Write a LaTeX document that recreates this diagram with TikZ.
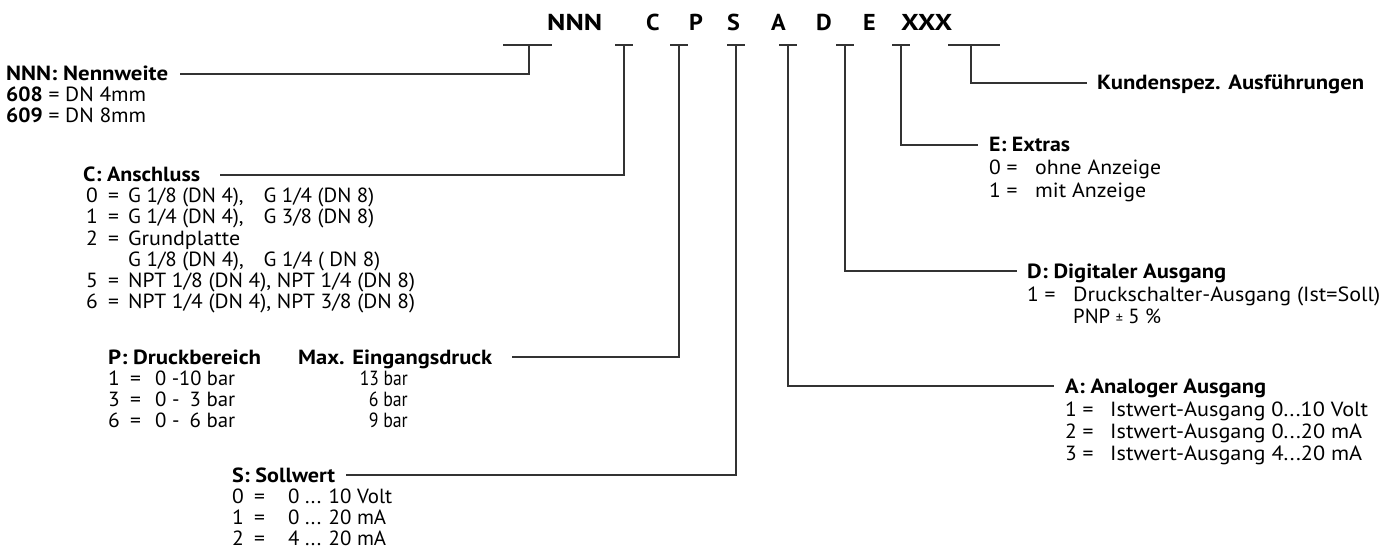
\documentclass[tikz,border=0pt]{standalone}
\usepackage{fontspec}
\usepackage{graphicx}
\setmainfont{PT Sans}[FakeStretch=1.05]
\newlength\fitlen
\newcommand\fitw[2]{\settowidth\fitlen{#2}\scalebox{\fpeval{#1/(\the\fitlen)}}[1]{#2}}
\newcommand\bodyf{\fontsize{20.5}{22}\selectfont}
\tikzset{
  ttl/.style={font=\bodyf\bfseries, anchor=base west, inner sep=0pt, text height=14pt, text depth=0pt},
  txt/.style={font=\bodyf, anchor=base west, inner sep=0pt},
  hdr/.style={font=\fontsize{23}{24}\selectfont\bfseries, anchor=base west, inner sep=0pt},
  conn/.style={line width=1.1pt, draw=black!80},
}
\begin{document}
\begin{tikzpicture}[x=1pt,y=-1pt]
\useasboundingbox (0,0) rectangle (1397,556);
% header
\node[hdr] (hN) at (547,31) {\fitw{55}{NNN}};
\node[hdr] (hC) at (646,31) {C};
\node[hdr] (hP) at (689,31) {P};
\node[hdr] (hS) at (727,31) {S};
\node[hdr] (hA) at (771,31) {A};
\node[hdr] (hD) at (816,31) {D};
\node[hdr] (hE) at (863,31) {E};
\node[hdr] (hX) at (901,31) {\fitw{51}{XXX}};
% tick coordinates
\coordinate (tN) at (529,45);
\coordinate (tC) at (624,45);
\coordinate (tP) at (679,45);
\coordinate (tS) at (736,45);
\coordinate (tA) at (788,45);
\coordinate (tD) at (845,45);
\coordinate (tE) at (901,45);
\coordinate (tX) at (971,45);
\coordinate (bN1) at (503,45); \coordinate (bN2) at (552,45);
\coordinate (bX1) at (948,45); \coordinate (bX2) at (1000,45);
% bars
\draw[conn] (bN1) -- (bN2);
\draw[conn] (bX1) -- (bX2);
\foreach \c in {tC,tP,tS,tA,tD,tE} \draw[conn] ([xshift=-9pt]\c) -- ([xshift=9pt]\c);
% NNN
\node[ttl] (nT) at (6,81) {\fitw{162}{NNN: Nennweite}};
\node[txt] (n1) at (6,102) {\fitw{140}{\textbf{608} = DN 4mm}};
\node[txt] (n2) at (6,123) {\fitw{140}{\textbf{609} = DN 8mm}};
% C
\node[ttl] (cT) at (83,182) {\fitw{117}{C: Anschluss}};
\node[txt] (c1l) at (86,203) {0\enspace=};
\node[txt] (c1) at (128,203) {\fitw{246}{G 1/8 (DN 4),\quad G 1/4 (DN 8)}};
\node[txt] (c2l) at (86,224) {1\enspace=};
\node[txt] (c2) at (128,224) {\fitw{246}{G 1/4 (DN 4),\quad G 3/8 (DN 8)}};
\node[txt] (c3l) at (86,245) {2\enspace=};
\node[txt] (c3) at (128,245) {\fitw{112}{Grundplatte}};
\node[txt] (c4) at (128,266) {\fitw{252}{G 1/8 (DN 4),\quad G 1/4 ( DN 8)}};
\node[txt] (c5l) at (86,287) {5\enspace=};
\node[txt] (c5) at (128,287) {\fitw{287}{NPT 1/8 (DN 4), NPT 1/4 (DN 8)}};
\node[txt] (c6l) at (86,308) {6\enspace=};
\node[txt] (c6) at (128,308) {\fitw{287}{NPT 1/4 (DN 4), NPT 3/8 (DN 8)}};
% P
\node[ttl] (pT) at (108,364) {\fitw{153}{P: Druckbereich}};
\node[ttl] (mT) at (298,364) {\fitw{194}{Max. Eingangsdruck}};
\node[txt] (p1l) at (108,385) {1\enspace=};
\node[txt] (p1) at (155,385) {\fitw{80}{0 -10 bar}};
\node[txt] (p2l) at (108,406) {3\enspace=};
\node[txt] (p2) at (155,406) {\fitw{80}{0 -\enspace3 bar}};
\node[txt] (p3l) at (108,427) {6\enspace=};
\node[txt] (p3) at (155,427) {\fitw{80}{0 -\enspace6 bar}};
\node[txt, anchor=base east] (m1) at (408,385) {\fitw{48}{13 bar}};
\node[txt, anchor=base east] (m2) at (408,406) {\fitw{39}{6 bar}};
\node[txt, anchor=base east] (m3) at (408,427) {\fitw{39}{9 bar}};
% S
\node[ttl] (sT) at (232,482) {\fitw{103}{S: Sollwert}};
\node[txt] (s1l) at (232,503) {0\enspace=};
\node[txt] (s1) at (288,503) {\fitw{104}{0 ... 10 Volt}};
\node[txt] (s2l) at (232,524) {1\enspace=};
\node[txt] (s2) at (288,524) {\fitw{98}{0 ... 20 mA}};
\node[txt] (s3l) at (232,545) {2\enspace=};
\node[txt] (s3) at (288,545) {\fitw{98}{4 ... 20 mA}};
% XXX
\node[ttl] (xT) at (1097,90) {\fitw{267}{Kundenspez. Ausführungen}};
% E
\node[ttl] (eT) at (989,152) {\fitw{81}{E: Extras}};
\node[txt] (e1l) at (989,175) {0 =};
\node[txt] (e1) at (1035,175) {\fitw{126}{ohne Anzeige}};
\node[txt] (e2l) at (989,197) {1 =};
\node[txt] (e2) at (1035,197) {\fitw{111}{mit Anzeige}};
% D
\node[ttl] (dT) at (1027,278) {\fitw{199}{D: Digitaler Ausgang}};
\node[txt] (d1l) at (1027,301) {1 =};
\node[txt] (d1) at (1073,301) {\fitw{307}{Druckschalter-Ausgang (Ist=Soll)}};
\node[txt] (d2) at (1073,323) {\fitw{88}{PNP {\fontsize{14}{14}\selectfont ±} 5 \%}};
% A
\node[ttl] (aT) at (1065,393) {\fitw{201}{A: Analoger Ausgang}};
\node[txt] (a1l) at (1065,416) {1 =};
\node[txt] (a1) at (1110,416) {\fitw{258}{Istwert-Ausgang 0...10 Volt}};
\node[txt] (a2l) at (1065,438) {2 =};
\node[txt] (a2) at (1110,438) {\fitw{252}{Istwert-Ausgang 0...20 mA}};
\node[txt] (a3l) at (1065,460) {3 =};
\node[txt] (a3) at (1110,460) {\fitw{252}{Istwert-Ausgang 4...20 mA}};
% connectors
\draw[conn] (tN) |- ([xshift=12pt]nT.east);
\draw[conn] (tC) |- ([xshift=20pt]cT.east);
\draw[conn] (tP) |- ([xshift=20pt]mT.east);
\draw[conn] (tS) |- ([xshift=11pt]sT.east);
\draw[conn] (tA) |- ([xshift=-11pt]aT.west);
\draw[conn] (tD) |- ([xshift=-10pt]dT.west);
\draw[conn] (tE) |- ([xshift=-11pt]eT.west);
\draw[conn] (tX) |- ([xshift=-10pt]xT.west);
\end{tikzpicture}
\end{document}
